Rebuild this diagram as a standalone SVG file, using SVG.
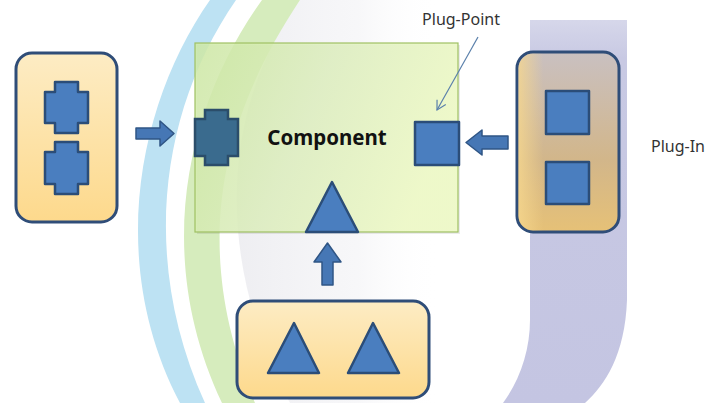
<svg xmlns="http://www.w3.org/2000/svg" width="707" height="403" viewBox="0 0 707 403">
<defs>
<style>
.shape{fill:#4a7ebf;stroke:#2b4d78;stroke-width:2.5;stroke-linejoin:round}
.dark{fill:#3a6b8e;stroke:#2b4d6a;stroke-width:2.5}
.frame{stroke:#2f4d78;stroke-width:3}
.arrow{fill:#4677b5;stroke:#2f5585;stroke-width:1.5;stroke-linejoin:round}
.lbl{font-family:"Noto Sans","Open Sans",sans-serif;font-size:16px;fill:#333}
</style>
<linearGradient id="yellow" x1="0" y1="0" x2="0" y2="1">
<stop offset="0" stop-color="#fdecc4"/>
<stop offset="1" stop-color="#fdd98c"/>
</linearGradient>
<linearGradient id="tan" x1="0" y1="0" x2="0" y2="1">
<stop offset="0" stop-color="#c9c0c1"/>
<stop offset="0.6" stop-color="#d2b68a"/>
<stop offset="1" stop-color="#e6c177"/>
</linearGradient>
<linearGradient id="tanside" x1="0" y1="0" x2="1" y2="0">
<stop offset="0" stop-color="#f6d78e" stop-opacity="0.8"/>
<stop offset="0.25" stop-color="#f6d78e" stop-opacity="0"/>
</linearGradient>
<linearGradient id="green" x1="0" y1="0" x2="1" y2="0.3">
<stop offset="0" stop-color="#cfeaa6" stop-opacity="0.85"/>
<stop offset="0.5" stop-color="#dff0c0" stop-opacity="0.85"/>
<stop offset="1" stop-color="#eef9c8" stop-opacity="0.95"/>
</linearGradient>
<linearGradient id="bar" x1="0" y1="0" x2="0" y2="1">
<stop offset="0" stop-color="#d6d7ea"/>
<stop offset="0.1" stop-color="#c8c9e3"/>
<stop offset="1" stop-color="#c4c5e2"/>
</linearGradient>
<linearGradient id="gray" x1="0" y1="0" x2="1" y2="0">
<stop offset="0" stop-color="#ececf0" stop-opacity="0.9"/>
<stop offset="0.6" stop-color="#f2f2f5" stop-opacity="0.6"/>
<stop offset="1" stop-color="#ffffff" stop-opacity="0"/>
</linearGradient>
<marker id="open" markerWidth="12" markerHeight="12" refX="10" refY="6" orient="auto" markerUnits="userSpaceOnUse">
<path d="M1,1 L10,6 L1,11" fill="none" stroke="#5a80ab" stroke-width="1.2"/>
</marker>
</defs>
<rect width="707" height="403" fill="#ffffff"/>
<g id="watermark">
<path d="M530,20 L627,20 L627,300 C625,355 605,385 585,403 L503,403 C520,380 530,350 530,320 Z" fill="url(#bar)"/>
<path d="M300,0 C220,110 215,260 290,403 L440,403 L440,0 Z" fill="url(#gray)"/>
<path d="M210,0 C140,100 105,260 180,403 L205,403 C140,260 160,110 236,0 Z" fill="#bde2f3"/>
<path d="M262,0 C190,100 150,250 222,403 L255,403 C190,250 220,120 300,0 Z" fill="#d6ecbd"/>
</g>
<g id="component">
<rect x="197" y="45" width="263" height="189" fill="#000" opacity="0.08"/>
<rect x="195" y="43" width="263" height="189" fill="url(#green)" stroke="#9fc063" stroke-width="1.2"/>
<path class="dark" d="M205,110 L228,110 L228,119 L238,119 L238,156 L228,156 L228,165 L205,165 L205,156 L195,156 L195,119 L205,119 Z"/>
<text x="327" y="145" text-anchor="middle" font-family="'Noto Sans','Open Sans',sans-serif" font-size="20.5" font-weight="bold" fill="#111">Component</text>
<rect class="shape" x="415" y="122" width="44" height="43"/>
<path class="shape" d="M332,182 L358,232 L306,232 Z"/>
</g>
<g id="left-box">
<rect class="frame" x="16" y="53" width="101" height="169" rx="16" fill="url(#yellow)"/>
<path class="shape" d="M55,82 L78,82 L78,92 L88,92 L88,123 L78,123 L78,133 L55,133 L55,123 L45,123 L45,92 L55,92 Z"/>
<path class="shape" d="M55,142 L78,142 L78,152 L88,152 L88,184 L78,184 L78,194 L55,194 L55,184 L45,184 L45,152 L55,152 Z"/>
</g>
<g id="right-box">
<rect class="frame" x="517" y="52" width="102" height="180" rx="16" fill="url(#tan)"/>
<rect x="518.5" y="53.5" width="99" height="177" rx="15" fill="url(#tanside)"/>
<rect class="shape" x="546" y="91" width="43" height="43"/>
<rect class="shape" x="546" y="162" width="43" height="42"/>
</g>
<g id="bottom-box">
<rect class="frame" x="237" y="301" width="192" height="97" rx="16" fill="url(#yellow)"/>
<path class="shape" d="M294,323 L319,373 L268,373 Z"/>
<path class="shape" d="M373,323 L399,373 L348,373 Z"/>
</g>
<g id="labels">
<text class="lbl" x="461" y="25" text-anchor="middle">Plug-Point</text>
<text class="lbl" x="651" y="152">Plug-In</text>
</g>
<g id="connectors">
<path class="arrow" d="M136,128 L160,128 L160,121 L174,133.5 L160,146 L160,139 L136,139 Z"/>
<path class="arrow" d="M508,136 L482,136 L482,130 L466,142.5 L482,155 L482,149 L508,149 Z"/>
<path class="arrow" d="M322,285 L322,262 L314,262 L327.5,243 L341,262 L333,262 L333,285 Z"/>
<line x1="478" y1="37" x2="437" y2="110" stroke="#5a80ab" stroke-width="1.2" marker-end="url(#open)"/>
</g>
</svg>
